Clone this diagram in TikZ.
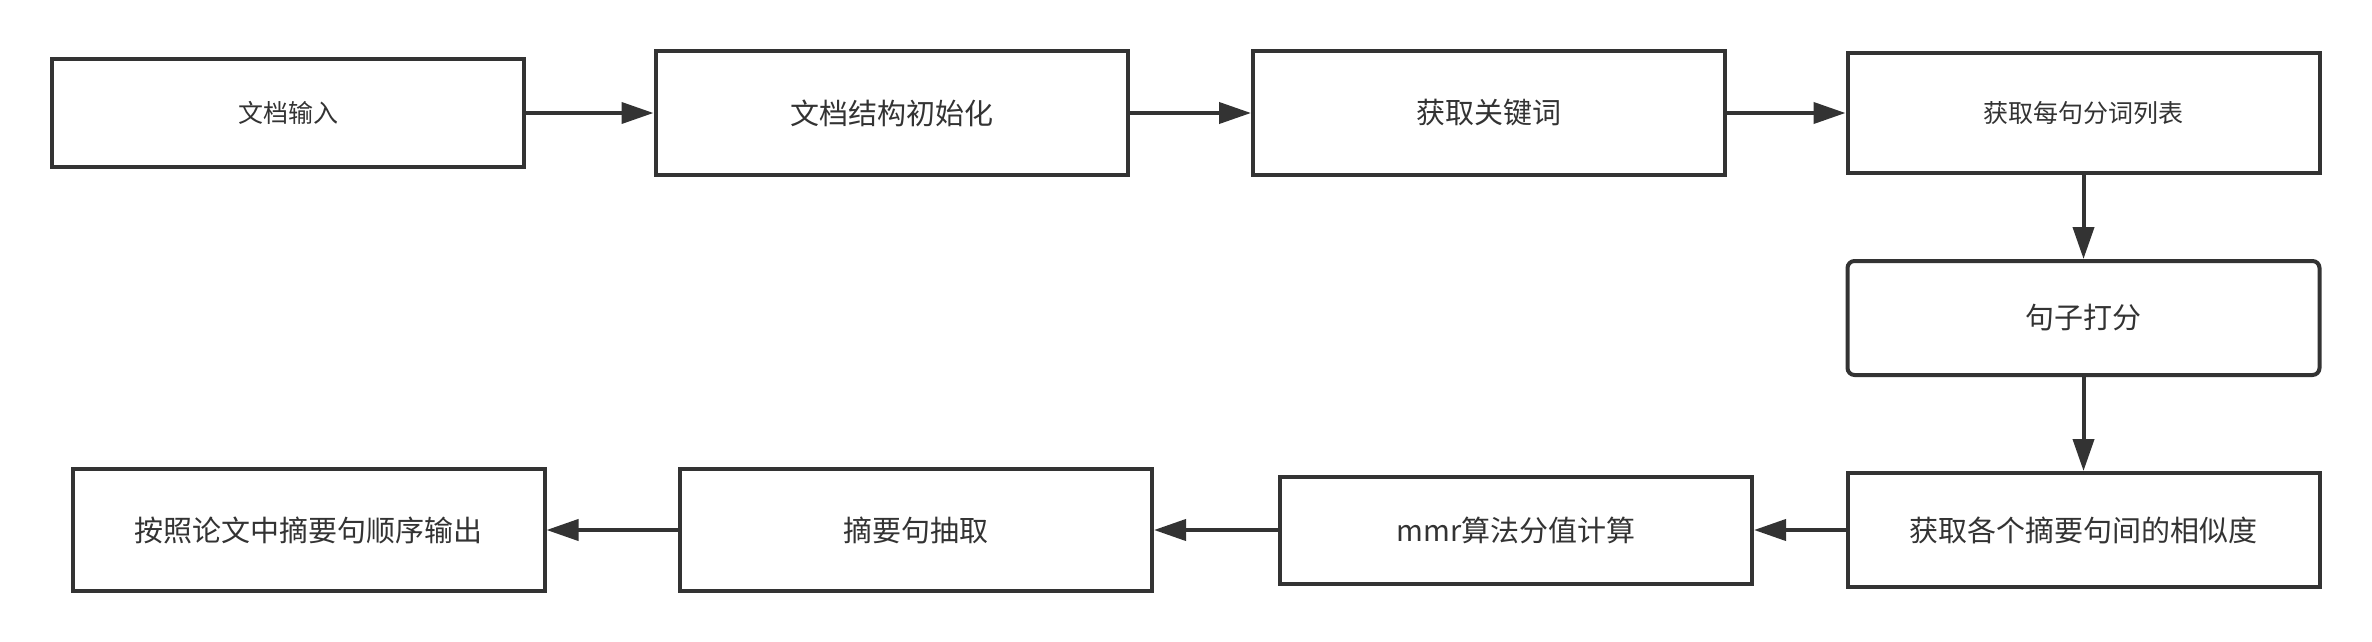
\documentclass[tikz,border=0pt]{standalone}
\usepackage{fontspec}
\setmainfont{Noto Sans CJK SC}
\usetikzlibrary{arrows.meta}
\definecolor{ink}{HTML}{333333}
\tikzset{
  box/.style={draw=ink, line width=4pt, fill=white, minimum width=472pt, inner sep=0pt,
              text=ink, font=\fontsize{29}{34}\selectfont},
  smalltxt/.style={font=\fontsize{25}{30}\selectfont},
  arr/.style={draw=ink, line width=4pt, -{Triangle[length=32pt,width=21pt]}},
}
\begin{document}
\begin{tikzpicture}[x=1pt,y=-1pt]
\useasboundingbox (0,0) rectangle (2372,642);
\node[box, smalltxt, minimum height=108pt] (b1) at (288,113) {文档输入};
\node[box, minimum height=124pt] (b2) at (891.5,113) {文档结构初始化};
\node[box, minimum height=124pt] (b3) at (1489,113) {获取关键词};
\node[box, smalltxt, minimum height=120pt] (b4) at (2083.5,113) {获取每句分词列表};
\node[box, rounded corners=7pt, minimum height=114pt] (b5) at (2083.5,318) {句子打分};
\node[box, minimum height=114pt] (b6) at (2083.5,530) {获取各个摘要句间的相似度};
\node[box, minimum height=107pt] (b7) at (1516,530) {mmr算法分值计算};
\node[box, minimum height=122pt] (b8) at (916,530) {摘要句抽取};
\node[box, minimum height=122pt] (b9) at (308.5,530) {按照论文中摘要句顺序输出};
\draw[arr] (b1) -- (b2);
\draw[arr] (b2) -- (b3);
\draw[arr] (b3) -- (b4);
\draw[arr] (b4) -- (b5);
\draw[arr] (b5) -- (b6);
\draw[arr] (b6) -- (b7);
\draw[arr] (b7) -- (b8);
\draw[arr] (b8) -- (b9);
\end{tikzpicture}
\end{document}
